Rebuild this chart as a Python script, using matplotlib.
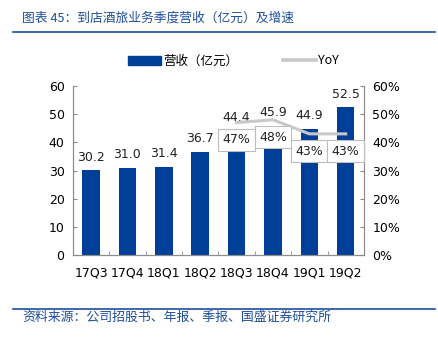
import matplotlib.pyplot as plt
import numpy as np
from matplotlib.patches import Patch
from matplotlib.lines import Line2D

plt.rcParams["font.family"] = ["DejaVu Sans", "Noto Sans CJK SC"]

quarters = ["17Q3", "17Q4", "18Q1", "18Q2", "18Q3", "18Q4", "19Q1", "19Q2"]
revenue = [30.2, 31.0, 31.4, 36.7, 44.4, 45.9, 44.9, 52.5]
yoy_quarters = ["18Q3", "18Q4", "19Q1", "19Q2"]
yoy = [47, 48, 43, 43]

BLUE = "#003f98"
GREY = "#c8c8c8"
SPINE = "#8c8c8c"
CJK = ["Noto Sans CJK SC", "DejaVu Sans"]

fig = plt.figure(figsize=(4.39, 3.37), dpi=100)
ax = fig.add_axes([0.166, 0.243, 0.663, 0.502])
ax2 = ax.twinx()

x = np.arange(len(quarters))
ax.bar(x, revenue, width=0.48, color=BLUE, zorder=2)
for xi, v in zip(x, revenue):
    ax.annotate(f"{v:.1f}", (xi, v), textcoords="offset points", xytext=(0, 4.5),
                ha="center", va="bottom", fontsize=9, color="#222222")

ax.set_xlim(-0.5, len(quarters) - 0.5)
ax.set_ylim(0, 60)
ax.set_yticks(range(0, 61, 10))
ax.set_xticks(x)
ax.set_xticklabels(quarters)
ax.set_xticks(np.arange(-0.5, len(quarters), 1), minor=True)
ax.tick_params(axis="x", which="major", length=0, pad=8, labelsize=9)
ax.tick_params(axis="x", which="minor", length=3, direction="in", color=SPINE)
ax.tick_params(axis="y", direction="in", length=3, color=SPINE, labelsize=9, pad=6)

# 同比增速折线（右轴）
xy = [quarters.index(q) for q in yoy_quarters]
ax2.plot(xy, yoy, color=GREY, linewidth=2.2, zorder=3)
for xi, v in zip(xy, yoy):
    ax2.annotate(f"{v}%", (xi, v), textcoords="offset points", xytext=(0, -12.5),
                 ha="center", va="center", fontsize=9, color="#222222",
                 bbox=dict(boxstyle="square,pad=0.35", fc="white", ec="#bdbdbd", lw=0.8))
ax2.set_ylim(0, 60)
ax2.set_yticks(range(0, 61, 10))
ax2.set_yticklabels([f"{t}%" for t in range(0, 61, 10)])
ax2.tick_params(axis="y", direction="in", length=3, color=SPINE, labelsize=9, pad=6)

for a in (ax, ax2):
    a.spines["top"].set_visible(False)
    for s in ("left", "right", "bottom"):
        a.spines[s].set_color(SPINE)
        a.spines[s].set_linewidth(0.8)

handles = [Patch(facecolor=BLUE, edgecolor=BLUE),
           Line2D([0], [0], color=GREY, linewidth=2.6)]
fig.legend(handles, ["营收（亿元）", "YoY"], loc="center", bbox_to_anchor=(0.532, 0.819),
           ncol=2, frameon=False, handlelength=2.65, handleheight=0.75,
           handletextpad=0.15, columnspacing=3.6, borderpad=0,
           prop={"family": CJK, "size": 9})

# 标题与来源
fig.text(0.05, 0.947, "图表 45：到店酒旅业务季度营收（亿元）及增速", family=CJK,
         fontsize=9.2, color="#1f4e9c", style="italic", va="center")
fig.add_artist(Line2D([0.03, 0.99], [0.905, 0.905], color="#1f4e9c", linewidth=1.2))
fig.add_artist(Line2D([0.03, 0.99], [0.084, 0.084], color="#1f4e9c", linewidth=1.2))
fig.text(0.05, 0.057, "资料来源：公司招股书、年报、季报、国盛证券研究所", family=CJK,
         fontsize=9.3, color="#1f4e9c", style="italic", va="center")

fig.savefig("out.png", dpi=100)
